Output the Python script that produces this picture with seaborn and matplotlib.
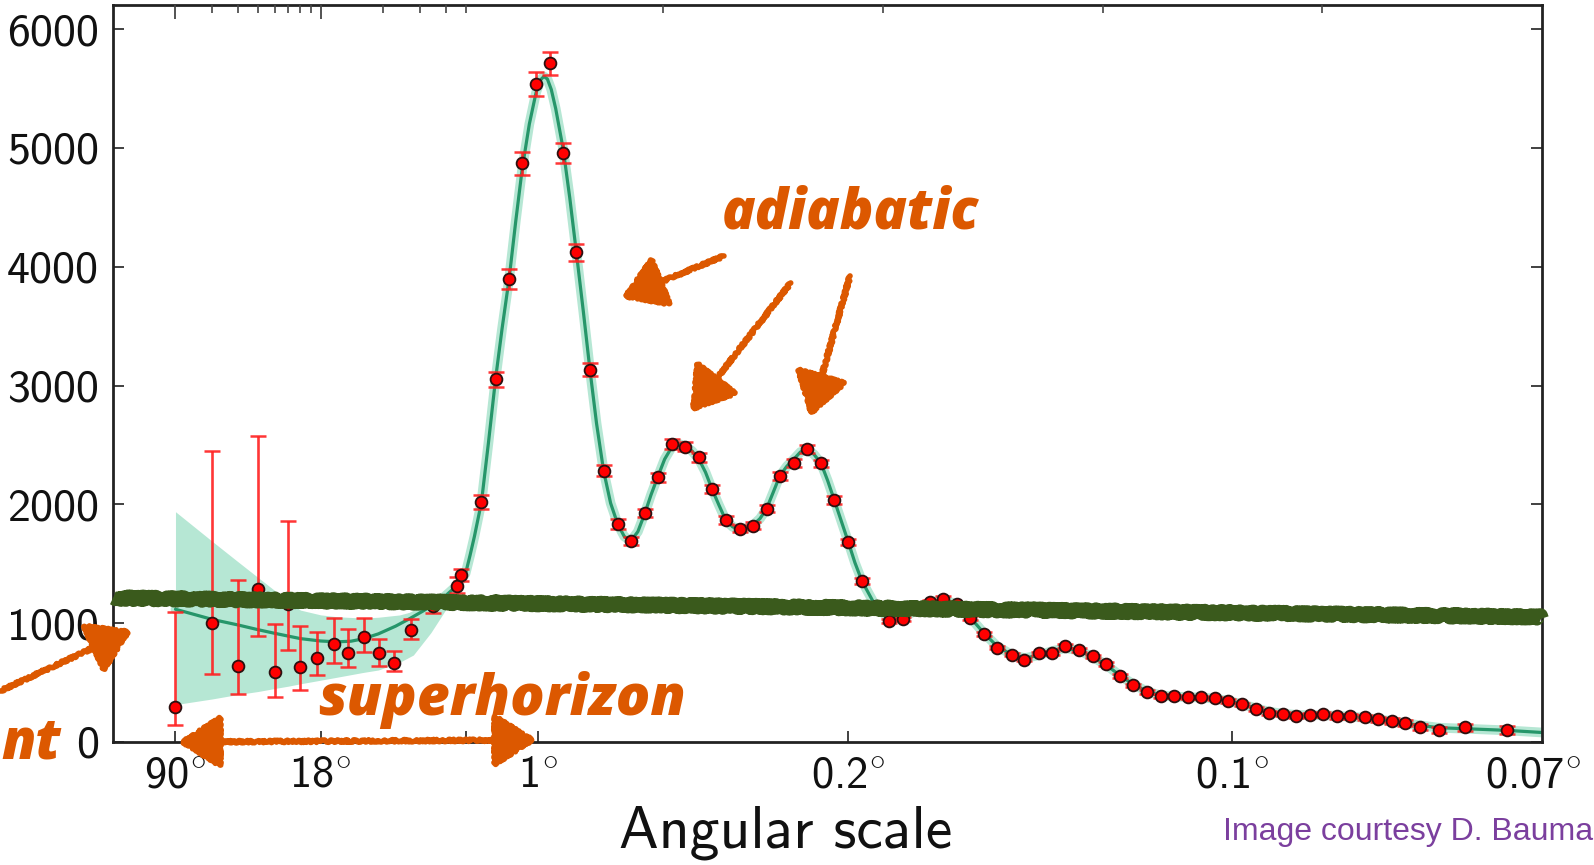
import numpy as np
import matplotlib
matplotlib.use("Agg")
import matplotlib.pyplot as plt
import matplotlib.transforms as mtransforms
from matplotlib.ticker import FixedLocator, NullLocator, FixedFormatter
import seaborn as sns

# ---------------- data ----------------
# binned power spectrum points: multipole ell and D_ell [muK^2]
ell = [2, 3, 4, 5, 6, 7, 8, 9.6, 11.6, 13.6,
       16.2, 19.1, 22.7, 27.3, 34.9, 45.2, 47.6,
       86, 118, 149, 179, 210, 241, 272, 302, 333, 364,
       396, 426, 458, 487, 519, 550, 581, 611, 642, 674,
       704, 735, 765, 797, 828, 859, 889, 921, 952, 983,
       1014, 1045, 1076, 1107, 1137, 1168, 1198, 1230, 1260, 1293,
       1322, 1354, 1385, 1415, 1446, 1477, 1508, 1539, 1570, 1601,
       1632, 1662, 1694, 1724, 1756, 1786, 1818, 1849, 1879, 1910,
       1941, 1972, 2002, 2033, 2064, 2096, 2127, 2158, 2188, 2222,
       2266, 2324, 2420]
dl = [297, 1004, 640, 1285, 592, 1159, 634, 704, 825, 746,
      886, 746, 667, 943, 1144, 1313, 1405,
      2018, 3052, 3899, 4870, 5535, 5712, 4959, 4121, 3131, 2283,
      1835, 1692, 1925, 2228, 2508, 2485, 2396, 2127, 1868, 1795,
      1820, 1963, 2239, 2350, 2466, 2345, 2037, 1683, 1355, 1144,
      1018, 1035, 1119, 1176, 1206, 1161, 1041, 909, 794, 735,
      693, 746, 749, 808, 774, 721, 656, 555, 477, 421,
      387, 385, 376, 376, 368, 343, 317, 278, 247, 236,
      219, 227, 233, 216, 219, 208, 191, 177, 160, 129,
      101, 124, 101]
err_minus = [154, 434, 239, 393, 211, 385, 196, 140, 158, 112,
             126, 106, 67, 79, 56, 62, 48,
             60, 65, 85, 95, 100, 95, 85, 70, 55, 45,
             40, 35, 35, 38, 40, 40, 38, 35, 32, 30,
             30, 30, 32, 33, 33, 32, 30, 28, 25, 22,
             20, 20, 20, 20, 20, 18, 17, 16, 15, 15,
             15, 15, 15, 15, 15, 15, 14, 14, 14, 14,
             14, 14, 14, 14, 14, 15, 15, 15, 16, 16,
             17, 18, 18, 19, 20, 21, 22, 23, 24, 25,
             27, 30, 33]
err_plus = [800, 1445, 720, 1290, 401, 701, 345, 224, 221, 205,
            155, 118, 99, 92, 85, 73, 48,
            60, 65, 85, 95, 100, 95, 85, 70, 55, 45,
            40, 35, 35, 38, 40, 40, 38, 35, 32, 30,
            30, 30, 32, 33, 33, 32, 30, 28, 25, 22,
            20, 20, 20, 20, 20, 18, 17, 16, 15, 15,
            15, 15, 15, 15, 15, 15, 14, 14, 14, 14,
            14, 14, 14, 14, 14, 15, 15, 15, 16, 16,
            17, 18, 18, 19, 20, 21, 22, 23, 24, 25,
            27, 30, 33]

# best-fit model curve
model_ell = [2, 3, 4, 5, 6, 8, 10, 12, 14, 16,
             19, 23, 27, 31, 35, 40, 45, 50, 60, 70,
             86, 102, 118, 133, 149, 164, 179, 195, 210, 220,
             228, 236, 245, 255, 272, 287, 302, 318, 333, 348,
             364, 380, 396, 411, 426, 442, 458, 472, 487, 503,
             519, 534, 550, 565, 581, 596, 611, 627, 642, 658,
             674, 689, 704, 720, 735, 750, 765, 781, 797, 812,
             828, 843, 859, 874, 889, 905, 921, 936, 952, 983,
             1014, 1045, 1076, 1107, 1137, 1168, 1198, 1230, 1260, 1293,
             1322, 1354, 1385, 1415, 1446, 1477, 1508, 1539, 1570, 1601,
             1632, 1662, 1694, 1724, 1756, 1786, 1818, 1849, 1879, 1910,
             1941, 1972, 2002, 2033, 2064, 2096, 2127, 2158, 2188, 2222,
             2266, 2324, 2420, 2500]
model_dl = [1117, 1032, 985, 945, 915, 870, 850, 843, 848, 868,
            910, 975, 1040, 1100, 1155, 1230, 1310, 1420, 1570, 1730,
            2018, 2520, 3052, 3480, 3899, 4380, 4830, 5200, 5460, 5570,
            5600, 5580, 5490, 5330, 4990, 4580, 4121, 3620, 3131, 2680,
            2283, 2010, 1835, 1730, 1692, 1770, 1925, 2080, 2228, 2380,
            2480, 2510, 2490, 2450, 2380, 2270, 2127, 1990, 1868, 1810,
            1795, 1800, 1825, 1880, 1963, 2100, 2239, 2320, 2380, 2440,
            2460, 2420, 2345, 2200, 2037, 1860, 1683, 1510, 1355, 1144,
            1040, 1045, 1110, 1175, 1195, 1160, 1050, 915, 805, 735,
            705, 730, 765, 790, 770, 715, 650, 560, 485, 425,
            392, 382, 378, 374, 365, 345, 318, 283, 255, 238,
            228, 226, 226, 220, 213, 204, 190, 175, 160, 140,
            120, 112, 98, 80]

# cosmic-variance band at low ell
band_ell = [2, 3, 4, 5, 6, 7, 8, 10, 12, 16, 19, 24, 28, 34, 40, 46, 50]
band_lo = [315, 362, 400, 425, 450, 470, 490, 520, 545, 585, 606, 670, 732, 920, 1111, 1307, 1400]
band_hi = [1938, 1690, 1517, 1384, 1276, 1180, 1110, 1070, 1054, 1043, 1050, 1069, 1100, 1170, 1270, 1380, 1480]

# hand-drawn overlay line (level at left / right edge)
overlay_dl = [1212, 1052]

# axis ticks
xtick_ell = [2, 10, 50, 215, 920, 1795, 2480]
xtick_labels = [r"90$^{\circ}$", r"18$^{\circ}$", "", r"1$^{\circ}$",
                r"0.2$^{\circ}$", r"0.1$^{\circ}$", r"0.07$^{\circ}$"]
top_major_ell = [2, 10]
top_minor_ell = [3, 4, 5, 6, 7, 8, 9, 20, 30, 40, 50, 500, 1000, 1500, 2000]
ytick_vals = [0, 1000, 2000, 3000, 4000, 5000, 6000]

# ---------------- style ----------------
ORANGE = "#dc5800"
BAND = "#b6e7d4"
LINE = "#26966a"
RED = "#ff0000"
ERR = "#ff2020"
DARKGREEN = "#3a5a1c"

sns.set_theme(style="ticks")
plt.rcParams["font.family"] = ["cmss10", "DejaVu Sans"]
plt.rcParams["axes.unicode_minus"] = False
plt.rcParams["mathtext.fontset"] = "cm"

W, H = 1594, 865
fig = plt.figure(figsize=(W / 100, H / 100), dpi=100)
fig.patch.set_facecolor("white")
L, R, T, B = 113, 1542, 5, 742
rect = [L / W, 1 - B / H, (R - L) / W, (B - T) / H]
ax = fig.add_axes(rect)
ax.set_facecolor("white")

LBREAK = 50.0
SLOPE = 0.0021167


def fwd(l):
    l = np.asarray(l, dtype=float)
    lc = np.clip(l, 1e-6, None)
    return np.where(l <= LBREAK, np.log10(lc), np.log10(LBREAK) + (l - LBREAK) * SLOPE)


def inv(u):
    u = np.asarray(u, dtype=float)
    ub = np.log10(LBREAK)
    return np.where(u <= ub, 10.0 ** np.clip(u, -12, ub), LBREAK + (u - ub) / SLOPE)


ax.set_xscale("function", functions=(fwd, inv))

# band + model
ax.fill_between(band_ell, band_lo, band_hi, color=BAND, lw=0, zorder=1)
sns.lineplot(x=model_ell, y=model_dl, ax=ax, color=BAND, linewidth=7, sort=False,
             zorder=1.5, solid_capstyle="round", solid_joinstyle="round")
sns.lineplot(x=model_ell, y=model_dl, ax=ax, color=LINE, linewidth=2.3, sort=False, zorder=2)

# data points with error bars
ax.errorbar(ell, dl, yerr=[err_minus, err_plus], fmt="none", ecolor=ERR,
            elinewidth=1.9, capsize=5.5, capthick=1.8, zorder=3, alpha=0.9)
sns.scatterplot(x=ell, y=dl, ax=ax, s=72, color=RED, edgecolor="#2b1010",
                linewidth=1.3, zorder=4)

# hand-drawn dark green overlay
trans = mtransforms.blended_transform_factory(ax.transAxes, ax.transData)
ov, = ax.plot([0, 1], overlay_dl, transform=trans, color=DARKGREEN, lw=10,
              solid_capstyle="butt", zorder=5, clip_on=False)
ov.set_sketch_params(scale=1.8, length=3.0, randomness=8)

ax.set_xlim(1, 2500)
ax.set_ylim(0, 6202)

# ticks
ax.xaxis.set_major_locator(FixedLocator(xtick_ell))
ax.xaxis.set_major_formatter(FixedFormatter(xtick_labels))
ax.xaxis.set_minor_locator(NullLocator())
ax.set_yticks(ytick_vals)
ax.set_yticklabels([str(v) for v in ytick_vals])
ax.yaxis.set_minor_locator(NullLocator())
ax.tick_params(axis="both", which="major", direction="in", length=8, width=1.3, color="#333333")
ax.tick_params(axis="x", top=False, bottom=True, labelsize=32, pad=10, labelcolor="#111111")
ax.tick_params(axis="y", left=True, right=True, labelsize=33, pad=10, labelcolor="#111111")
ax.xaxis.get_major_ticks()[-1].tick1line.set_visible(False)
for s in ax.spines.values():
    s.set_linewidth(2.0)
    s.set_color("#222222")
    s.set_visible(True)

ax.set_xlabel("Angular scale", fontsize=43, color="#111111")
ax.xaxis.set_label_coords((786 - L) / (R - L), (B - 806) / (B - T))
ax.set_ylabel("")

# top ticks on overlay axes
ax2 = fig.add_axes(rect, frameon=False)
ax2.set_xscale("function", functions=(fwd, inv))
ax2.set_xlim(1, 2500)
ax2.set_ylim(0, 6202)
ax2.xaxis.tick_top()
ax2.xaxis.set_major_locator(FixedLocator(top_major_ell))
ax2.xaxis.set_minor_locator(FixedLocator(top_minor_ell))
ax2.tick_params(axis="x", which="major", direction="in", length=10, width=1.3, color="#444444",
                labeltop=False, labelbottom=False)
ax2.tick_params(axis="x", which="minor", direction="in", length=6, width=1.2, color="#444444",
                labeltop=False, labelbottom=False)
ax2.set_yticks([])
ax2.patch.set_visible(False)

# annotations
txt_kw = dict(color=ORANGE, fontsize=40, fontfamily=["Open Sans", "Lato", "DejaVu Sans"],
              fontweight="heavy", fontstyle="italic")
fig.text(722 / W, 1 - 214 / H, "adiabatic", ha="left", va="center", **txt_kw)
fig.text(318 / W, 1 - 700 / H, "superhorizon", ha="left", va="center",
         **{**txt_kw, "fontsize": 41})
fig.text(1 / W, 1 - 744 / H, "nt", ha="left", va="center", **txt_kw)

arrow_kw = dict(arrowstyle="-|>,head_length=1.1,head_width=0.7", lw=4, color=ORANGE,
                mutation_scale=24, shrinkA=0, shrinkB=0)
arrows = [
    ((405, 3736), (638, 4090)),
    ((562, 2777), (790, 3863)),
    ((834, 2735), (925, 3922)),
]
for head, tail in arrows:
    a = ax.annotate("", xy=head, xytext=tail, xycoords="data", textcoords="data",
                    arrowprops=arrow_kw, zorder=6, annotation_clip=False)
    a.arrow_patch.set_sketch_params(scale=1.2, length=3, randomness=6)

dbl = ax.annotate("", xy=(2.06, 0), xytext=(212, 17), xycoords="data", textcoords="data",
                  arrowprops=dict(arrowstyle="<|-|>,head_length=1.1,head_width=0.7", lw=4,
                                  color=ORANGE, mutation_scale=24, shrinkA=0, shrinkB=0),
                  zorder=6, annotation_clip=False)
dbl.arrow_patch.set_sketch_params(scale=1.2, length=3, randomness=6)

left = ax.annotate("", xy=(1.235, 943), xytext=(0.0, 1 - 691 / H), xycoords="data",
                   textcoords="figure fraction", arrowprops=arrow_kw, zorder=6,
                   annotation_clip=False)
left.arrow_patch.set_sketch_params(scale=1.2, length=3, randomness=6)

fig.text(1593 / W, 1 - 832 / H, "Image courtesy D. Bauma", ha="right", va="center",
         color="#7b3f9e", fontsize=23, fontfamily=["Liberation Sans", "DejaVu Sans"])

fig.savefig("out.png", dpi=100, facecolor="white")
